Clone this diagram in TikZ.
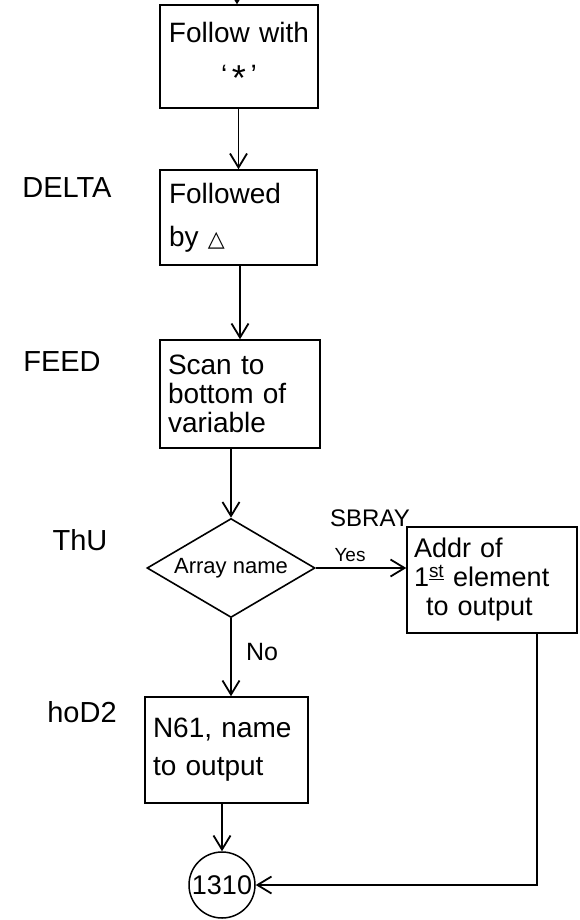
\documentclass[tikz,border=0pt]{standalone}
\usepackage{fontspec}
\setmainfont{Liberation Sans}
\newfontfamily\symfont{DejaVu Sans}
\usetikzlibrary{shapes.geometric,arrows.meta}

\begin{document}
\begin{tikzpicture}[x=1pt,y=-1pt,line width=1.8pt,
  flow/.style={-{Straight Barb[length=14pt,width=17pt,line width=1.8pt]}},
  stepbox/.style={draw,rectangle,line width=1.5pt,inner sep=0pt,
    text width=#1,align=left},
  decision/.style={draw,diamond,aspect=1.7,inner sep=0pt,line width=1.6pt,
    minimum width=168pt,minimum height=99pt,font=\fontsize{22}{26}\selectfont},
  connector/.style={draw,circle,inner sep=0pt,minimum size=66pt,line width=1.5pt,
    font=\fontsize{27}{30}\selectfont},
  tag/.style={font=\fontsize{29}{32}\selectfont},
  note/.style={inner sep=0pt}]
\useasboundingbox[fill=white] (0,0) rectangle (580,920);

% process boxes
\node[stepbox=146pt,align=center,minimum width=158pt,minimum height=103pt,
  font=\fontsize{28}{42}\selectfont] (follow) at (239,56.5)
  {Follow with\\`\,\raisebox{-6pt}{\fontsize{36}{36}\selectfont *}\,'};
\node[stepbox=139pt,minimum width=157pt,minimum height=95pt,
  font=\fontsize{28}{43}\selectfont] (followed) at (238.5,217.5)
  {Followed\\by {\symfont\fontsize{22}{22}\selectfont △}};
\node[stepbox=144pt,minimum width=160pt,minimum height=108pt,
  font=\fontsize{28}{29}\selectfont] (scan) at (240,394)
  {Scan to\\bottom of\\variable};
\node[decision] (array) at (231,568) {Array name};
\node[stepbox=156pt,minimum width=170pt,minimum height=106pt,
  font=\fontsize{27}{29}\selectfont] (addr) at (492,580)
  {Addr of\\1\textsuperscript{\underline{st}} element\\\hspace*{12pt}to output};
\node[stepbox=147pt,minimum width=163pt,minimum height=106pt,
  font=\fontsize{28}{38}\selectfont] (nsix) at (226.5,750)
  {N61, name\\to output};
\node[connector] (out) at (222,885) {1310};

% entry labels
\node[tag] (lDelta) at (67,188) {DELTA};
\node[tag] (lFeed) at (62,362) {FEED};
\node[tag] (lThu) at (80,540) {ThU};
\node[tag] (lLod) at (82,712) {hoD2};
\node[note,font=\fontsize{24}{26}\selectfont] (lSbray) at (370,518) {SBRAY};
\node[note,font=\fontsize{19}{22}\selectfont] (lYes) at (350,555) {Yes};
\node[note,font=\fontsize{25}{28}\selectfont] (lNo) at (262,652) {No};

% connectors
\coordinate (entry) at (237,0);
\draw[flow] (entry) -- (entry |- follow.north);
\draw[flow] (follow.south -| followed.north) -- (followed.north);
\draw[flow] (followed.south -| scan.north) -- (scan.north);
\draw[flow] (scan.south -| array.north) -- (array.north);
\draw[flow] (array.east) -- (array.east -| addr.west);
\draw[flow] (array.south) -- (array.south |- nsix.north);
\draw[flow] (nsix.south -| out.north) -- (out.north);
\draw[flow] ([xshift=45pt]addr.south) |- (out.east);
\end{tikzpicture}
\end{document}
